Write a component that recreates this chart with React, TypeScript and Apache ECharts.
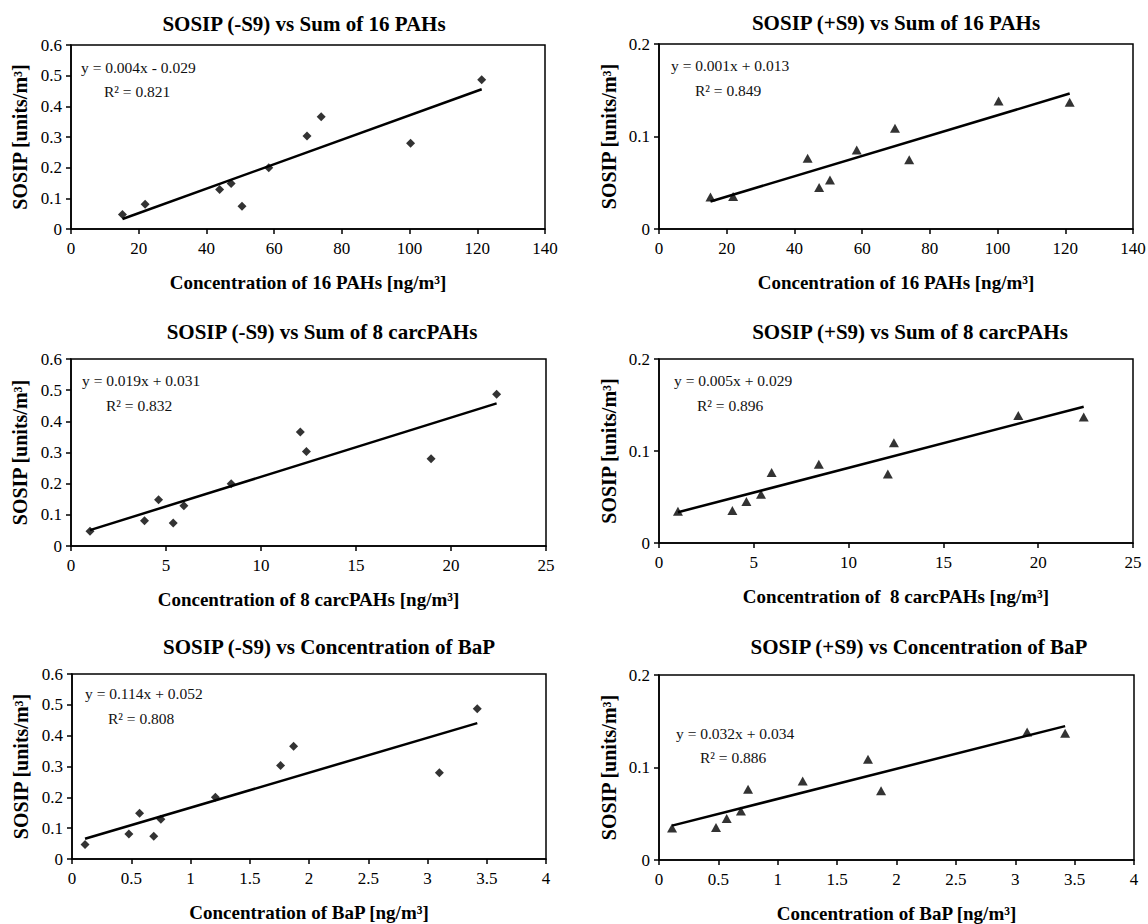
import React, { useEffect, useRef } from "react";
import * as echarts from "echarts";

// ---- data ----
const sum16PAHs = [15.2, 21.9, 43.9, 47.3, 50.5, 58.4, 69.7, 73.9, 100.3, 121.3];
const sum8carcPAHs = [1.0, 3.87, 5.94, 4.61, 5.38, 8.43, 12.39, 12.07, 18.95, 22.4];
const bapConc = [0.11, 0.48, 0.75, 0.57, 0.69, 1.21, 1.76, 1.87, 3.1, 3.42];
const sosipMinusS9 = [0.047, 0.081, 0.129, 0.148, 0.074, 0.2, 0.303, 0.366, 0.28, 0.487];
const sosipPlusS9 = [0.0345, 0.0352, 0.0765, 0.045, 0.053, 0.0855, 0.109, 0.075, 0.1385, 0.137];

const panelTitles = [
  "SOSIP (-S9) vs Sum of 16 PAHs",
  "SOSIP (+S9) vs Sum of 16 PAHs",
  "SOSIP (-S9) vs Sum of 8 carcPAHs",
  "SOSIP (+S9) vs Sum of 8 carcPAHs",
  "SOSIP (-S9) vs Concentration of BaP",
  "SOSIP (+S9) vs Concentration of BaP",
];
const xAxisNames = [
  "Concentration of 16 PAHs [ng/m³]",
  "Concentration of 16 PAHs [ng/m³]",
  "Concentration of 8 carcPAHs [ng/m³]",
  "Concentration of  8 carcPAHs [ng/m³]",
  "Concentration of BaP [ng/m³]",
  "Concentration of BaP [ng/m³]",
];
const yAxisName = "SOSIP [units/m³]";
const equationLabels = [
  "y = 0.004x - 0.029",
  "y = 0.001x + 0.013",
  "y = 0.019x + 0.031",
  "y = 0.005x + 0.029",
  "y = 0.114x + 0.052",
  "y = 0.032x + 0.034",
];
const r2Labels = ["R² = 0.821", "R² = 0.849", "R² = 0.832", "R² = 0.896", "R² = 0.808", "R² = 0.886"];
const trendSlopes = [0.00399, 0.0011, 0.019, 0.00536, 0.1134, 0.0325];
const trendIntercepts = [-0.0282, 0.013, 0.032, 0.0281, 0.053, 0.0336];
const xMaxes = [140, 140, 25, 25, 4, 4];
const xIntervals = [20, 20, 5, 5, 0.5, 0.5];
const yMaxes = [0.6, 0.2, 0.6, 0.2, 0.6, 0.2];
const yIntervals = [0.1, 0.1, 0.1, 0.1, 0.1, 0.1];

const panelX = [sum16PAHs, sum16PAHs, sum8carcPAHs, sum8carcPAHs, bapConc, bapConc];
const panelY = [sosipMinusS9, sosipPlusS9, sosipMinusS9, sosipPlusS9, sosipMinusS9, sosipPlusS9];

// ---- layout ----
const FONT = '"Liberation Serif", "Times New Roman", serif';
const grids = [
  { left: 71, top: 45, width: 474, height: 184 },
  { left: 659, top: 44, width: 474, height: 185 },
  { left: 71, top: 359, width: 475, height: 187 },
  { left: 659, top: 359, width: 474, height: 184 },
  { left: 72, top: 674, width: 474, height: 185 },
  { left: 659, top: 675, width: 475, height: 185 },
];
const titlePos = [
  [304, 25], [896, 24], [322, 333], [910, 333], [329, 648], [919, 648],
];
const eqPos = [
  [81, 67, 104, 91],
  [671, 65, 695, 90],
  [82, 380, 106, 405],
  [674, 380, 697, 405],
  [85, 693, 108, 718],
  [676, 733, 700, 757],
];

function buildOption() {
  const grid: any[] = [];
  const xAxis: any[] = [];
  const yAxis: any[] = [];
  const series: any[] = [];
  const title: any[] = [];
  const graphic: any[] = [];

  for (let i = 0; i < 6; i++) {
    const g = grids[i];
    grid.push({
      left: g.left,
      top: g.top,
      width: g.width,
      height: g.height,
      show: true,
      borderColor: "#000",
      borderWidth: 1.5,
      backgroundColor: "#fff",
      containLabel: false,
      outerBoundsMode: "none",
    });
    xAxis.push({
      type: "value",
      gridIndex: i,
      min: 0,
      max: xMaxes[i],
      interval: xIntervals[i],
      name: xAxisNames[i],
      nameLocation: "middle",
      nameGap: 44,
      nameTextStyle: { fontFamily: FONT, fontSize: 19, fontWeight: "bold", color: "#000" },
      axisLine: { show: true, onZero: false, lineStyle: { color: "#000", width: 1.5 } },
      axisTick: { show: true, inside: false, length: 5, lineStyle: { color: "#000", width: 1.5 } },
      axisLabel: { fontFamily: FONT, fontSize: 17, color: "#000", margin: 11 },
      splitLine: { show: false },
    });
    yAxis.push({
      type: "value",
      gridIndex: i,
      min: 0,
      max: yMaxes[i],
      interval: yIntervals[i],
      name: yAxisName,
      nameLocation: "middle",
      nameGap: i % 2 === 0 ? 41 : 40,
      nameTextStyle: { fontFamily: FONT, fontSize: 20, fontWeight: "bold", color: "#000" },
      axisLine: { show: true, onZero: false, lineStyle: { color: "#000", width: 1.5 } },
      axisTick: { show: true, inside: false, length: 5, lineStyle: { color: "#000", width: 1.5 } },
      axisLabel: { fontFamily: FONT, fontSize: 17, color: "#000", margin: 9 },
      splitLine: { show: false },
    });

    const xs = panelX[i];
    const ys = panelY[i];
    const isPlus = i % 2 === 1;
    series.push({
      type: "scatter",
      xAxisIndex: i,
      yAxisIndex: i,
      symbol: isPlus ? "triangle" : "diamond",
      symbolSize: isPlus ? [10, 9] : 9,
      itemStyle: { color: "#000" },
      data: xs.map((x, k) => [x, ys[k]]),
      z: 3,
    });
    const x0 = Math.min(...xs);
    const x1 = Math.max(...xs);
    series.push({
      type: "line",
      xAxisIndex: i,
      yAxisIndex: i,
      symbol: "none",
      lineStyle: { color: "#000", width: 2.5 },
      data: [
        [x0, trendSlopes[i] * x0 + trendIntercepts[i]],
        [x1, trendSlopes[i] * x1 + trendIntercepts[i]],
      ],
      z: 2,
    });

    title.push({
      text: panelTitles[i],
      left: titlePos[i][0],
      top: titlePos[i][1] - 12,
      textAlign: "center",
      padding: 0,
      textStyle: { fontFamily: FONT, fontSize: 21, fontWeight: "bold", color: "#000" },
    });

    const p = eqPos[i];
    graphic.push({
      type: "text",
      x: p[0],
      y: p[1],
      z: 10,
      style: {
        text: equationLabels[i],
        fontFamily: FONT,
        fontSize: 15.5,
        fill: "#111",
        align: "left",
        verticalAlign: "middle",
      },
    });
    graphic.push({
      type: "text",
      x: p[2],
      y: p[3],
      z: 10,
      style: {
        text: r2Labels[i],
        fontFamily: FONT,
        fontSize: 15.5,
        fill: "#111",
        align: "left",
        verticalAlign: "middle",
      },
    });
  }

  return {
    animation: false,
    backgroundColor: "#fff",
    title,
    grid,
    xAxis,
    yAxis,
    series,
    graphic,
  };
}

export default function App() {
  const ref = useRef<HTMLDivElement>(null);
  useEffect(() => {
    if (!ref.current) return;
    const chart = echarts.init(ref.current, undefined, { renderer: "svg" });
    chart.setOption(buildOption() as any);
    return () => chart.dispose();
  }, []);
  return (
    <div
      ref={ref}
      style={{ position: "absolute", left: 0, top: 0, width: 1148, height: 924, background: "#fff" }}
    />
  );
}
